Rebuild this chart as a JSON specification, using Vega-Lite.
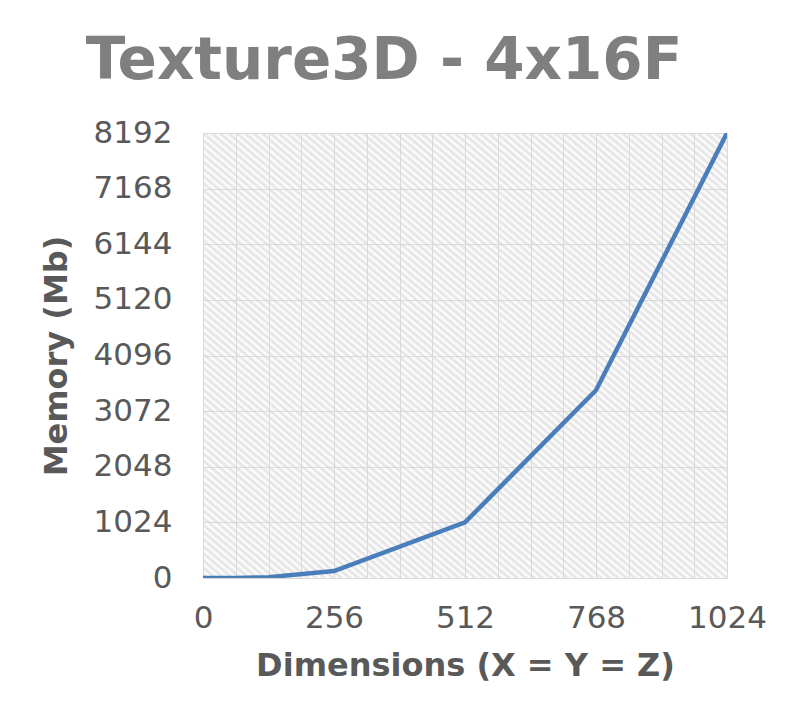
{
  "$schema": "https://vega.github.io/schema/vega-lite/v6.json",
  "width": 524,
  "height": 445,
  "autosize": {"type": "none"},
  "padding": {"left": 203, "top": 133, "right": 64, "bottom": 139},
  "background": "white",
  "title": {"text": "Texture3D - 4x16F", "fontSize": 58, "font": "DejaVu Sans", "fontWeight": "bold", "color": "#7f7f7f", "anchor": "middle", "dx": -81, "offset": 26},
  "data": {"values": [
    {"dim": 0, "mem": 0},
    {"dim": 64, "mem": 2},
    {"dim": 128, "mem": 16},
    {"dim": 256, "mem": 128},
    {"dim": 512, "mem": 1024},
    {"dim": 768, "mem": 3456},
    {"dim": 1024, "mem": 8192}
  ]},
  "mark": {"type": "line", "color": "#4a7ebb", "strokeWidth": 4.5, "clip": true},
  "encoding": {
    "x": {
      "field": "dim", "type": "quantitative",
      "scale": {"domain": [0, 1024], "nice": false, "zero": true},
      "axis": {
        "values": [0, 64, 128, 192, 256, 320, 384, 448, 512, 576, 640, 704, 768, 832, 896, 960, 1024],
        "labelExpr": "datum.value % 256 == 0 ? datum.label : ''",
        "format": "d",
        "title": "Dimensions (X = Y = Z)",
        "labelPadding": 25,
        "titlePadding": 17
      }
    },
    "y": {
      "field": "mem", "type": "quantitative",
      "scale": {"domain": [0, 8192], "nice": false},
      "axis": {
        "values": [0, 1024, 2048, 3072, 4096, 5120, 6144, 7168, 8192],
        "format": "d",
        "title": "Memory (Mb)",
        "labelPadding": 31,
        "titlePadding": 20
      }
    }
  },
  "config": {
    "view": {
      "stroke": null,
      "fill": {
        "gradient": "linear", "x1": 0, "y1": 1, "x2": 1, "y2": 0,
        "stops": [
{"offset":0,"color":"#ffffff"},{"offset":0.004,"color":"#e2e2e2"},{"offset":0.008,"color":"#ffffff"},{"offset":0.012,"color":"#e2e2e2"},{"offset":0.016,"color":"#ffffff"},{"offset":0.02,"color":"#e2e2e2"},{"offset":0.024,"color":"#ffffff"},{"offset":0.028,"color":"#e2e2e2"},{"offset":0.032,"color":"#ffffff"},{"offset":0.036,"color":"#e2e2e2"},
{"offset":0.04,"color":"#ffffff"},{"offset":0.044,"color":"#e2e2e2"},{"offset":0.048,"color":"#ffffff"},{"offset":0.052,"color":"#e2e2e2"},{"offset":0.056,"color":"#ffffff"},{"offset":0.06,"color":"#e2e2e2"},{"offset":0.064,"color":"#ffffff"},{"offset":0.068,"color":"#e2e2e2"},{"offset":0.072,"color":"#ffffff"},{"offset":0.076,"color":"#e2e2e2"},
{"offset":0.08,"color":"#ffffff"},{"offset":0.084,"color":"#e2e2e2"},{"offset":0.088,"color":"#ffffff"},{"offset":0.092,"color":"#e2e2e2"},{"offset":0.096,"color":"#ffffff"},{"offset":0.1,"color":"#e2e2e2"},{"offset":0.104,"color":"#ffffff"},{"offset":0.108,"color":"#e2e2e2"},{"offset":0.112,"color":"#ffffff"},{"offset":0.116,"color":"#e2e2e2"},
{"offset":0.12,"color":"#ffffff"},{"offset":0.124,"color":"#e2e2e2"},{"offset":0.128,"color":"#ffffff"},{"offset":0.132,"color":"#e2e2e2"},{"offset":0.136,"color":"#ffffff"},{"offset":0.14,"color":"#e2e2e2"},{"offset":0.144,"color":"#ffffff"},{"offset":0.148,"color":"#e2e2e2"},{"offset":0.152,"color":"#ffffff"},{"offset":0.156,"color":"#e2e2e2"},
{"offset":0.16,"color":"#ffffff"},{"offset":0.164,"color":"#e2e2e2"},{"offset":0.168,"color":"#ffffff"},{"offset":0.172,"color":"#e2e2e2"},{"offset":0.176,"color":"#ffffff"},{"offset":0.18,"color":"#e2e2e2"},{"offset":0.184,"color":"#ffffff"},{"offset":0.188,"color":"#e2e2e2"},{"offset":0.192,"color":"#ffffff"},{"offset":0.196,"color":"#e2e2e2"},
{"offset":0.2,"color":"#ffffff"},{"offset":0.204,"color":"#e2e2e2"},{"offset":0.208,"color":"#ffffff"},{"offset":0.212,"color":"#e2e2e2"},{"offset":0.216,"color":"#ffffff"},{"offset":0.22,"color":"#e2e2e2"},{"offset":0.224,"color":"#ffffff"},{"offset":0.228,"color":"#e2e2e2"},{"offset":0.232,"color":"#ffffff"},{"offset":0.236,"color":"#e2e2e2"},
{"offset":0.24,"color":"#ffffff"},{"offset":0.244,"color":"#e2e2e2"},{"offset":0.248,"color":"#ffffff"},{"offset":0.252,"color":"#e2e2e2"},{"offset":0.256,"color":"#ffffff"},{"offset":0.26,"color":"#e2e2e2"},{"offset":0.264,"color":"#ffffff"},{"offset":0.268,"color":"#e2e2e2"},{"offset":0.272,"color":"#ffffff"},{"offset":0.276,"color":"#e2e2e2"},
{"offset":0.28,"color":"#ffffff"},{"offset":0.284,"color":"#e2e2e2"},{"offset":0.288,"color":"#ffffff"},{"offset":0.292,"color":"#e2e2e2"},{"offset":0.296,"color":"#ffffff"},{"offset":0.3,"color":"#e2e2e2"},{"offset":0.304,"color":"#ffffff"},{"offset":0.308,"color":"#e2e2e2"},{"offset":0.312,"color":"#ffffff"},{"offset":0.316,"color":"#e2e2e2"},
{"offset":0.32,"color":"#ffffff"},{"offset":0.324,"color":"#e2e2e2"},{"offset":0.328,"color":"#ffffff"},{"offset":0.332,"color":"#e2e2e2"},{"offset":0.336,"color":"#ffffff"},{"offset":0.34,"color":"#e2e2e2"},{"offset":0.344,"color":"#ffffff"},{"offset":0.348,"color":"#e2e2e2"},{"offset":0.352,"color":"#ffffff"},{"offset":0.356,"color":"#e2e2e2"},
{"offset":0.36,"color":"#ffffff"},{"offset":0.364,"color":"#e2e2e2"},{"offset":0.368,"color":"#ffffff"},{"offset":0.372,"color":"#e2e2e2"},{"offset":0.376,"color":"#ffffff"},{"offset":0.38,"color":"#e2e2e2"},{"offset":0.384,"color":"#ffffff"},{"offset":0.388,"color":"#e2e2e2"},{"offset":0.392,"color":"#ffffff"},{"offset":0.396,"color":"#e2e2e2"},
{"offset":0.4,"color":"#ffffff"},{"offset":0.404,"color":"#e2e2e2"},{"offset":0.408,"color":"#ffffff"},{"offset":0.412,"color":"#e2e2e2"},{"offset":0.416,"color":"#ffffff"},{"offset":0.42,"color":"#e2e2e2"},{"offset":0.424,"color":"#ffffff"},{"offset":0.428,"color":"#e2e2e2"},{"offset":0.432,"color":"#ffffff"},{"offset":0.436,"color":"#e2e2e2"},
{"offset":0.44,"color":"#ffffff"},{"offset":0.444,"color":"#e2e2e2"},{"offset":0.448,"color":"#ffffff"},{"offset":0.452,"color":"#e2e2e2"},{"offset":0.456,"color":"#ffffff"},{"offset":0.46,"color":"#e2e2e2"},{"offset":0.464,"color":"#ffffff"},{"offset":0.468,"color":"#e2e2e2"},{"offset":0.472,"color":"#ffffff"},{"offset":0.476,"color":"#e2e2e2"},
{"offset":0.48,"color":"#ffffff"},{"offset":0.484,"color":"#e2e2e2"},{"offset":0.488,"color":"#ffffff"},{"offset":0.492,"color":"#e2e2e2"},{"offset":0.496,"color":"#ffffff"},{"offset":0.5,"color":"#e2e2e2"},{"offset":0.504,"color":"#ffffff"},{"offset":0.508,"color":"#e2e2e2"},{"offset":0.512,"color":"#ffffff"},{"offset":0.516,"color":"#e2e2e2"},
{"offset":0.52,"color":"#ffffff"},{"offset":0.524,"color":"#e2e2e2"},{"offset":0.528,"color":"#ffffff"},{"offset":0.532,"color":"#e2e2e2"},{"offset":0.536,"color":"#ffffff"},{"offset":0.54,"color":"#e2e2e2"},{"offset":0.544,"color":"#ffffff"},{"offset":0.548,"color":"#e2e2e2"},{"offset":0.552,"color":"#ffffff"},{"offset":0.556,"color":"#e2e2e2"},
{"offset":0.56,"color":"#ffffff"},{"offset":0.564,"color":"#e2e2e2"},{"offset":0.568,"color":"#ffffff"},{"offset":0.572,"color":"#e2e2e2"},{"offset":0.576,"color":"#ffffff"},{"offset":0.58,"color":"#e2e2e2"},{"offset":0.584,"color":"#ffffff"},{"offset":0.588,"color":"#e2e2e2"},{"offset":0.592,"color":"#ffffff"},{"offset":0.596,"color":"#e2e2e2"},
{"offset":0.6,"color":"#ffffff"},{"offset":0.604,"color":"#e2e2e2"},{"offset":0.608,"color":"#ffffff"},{"offset":0.612,"color":"#e2e2e2"},{"offset":0.616,"color":"#ffffff"},{"offset":0.62,"color":"#e2e2e2"},{"offset":0.624,"color":"#ffffff"},{"offset":0.628,"color":"#e2e2e2"},{"offset":0.632,"color":"#ffffff"},{"offset":0.636,"color":"#e2e2e2"},
{"offset":0.64,"color":"#ffffff"},{"offset":0.644,"color":"#e2e2e2"},{"offset":0.648,"color":"#ffffff"},{"offset":0.652,"color":"#e2e2e2"},{"offset":0.656,"color":"#ffffff"},{"offset":0.66,"color":"#e2e2e2"},{"offset":0.664,"color":"#ffffff"},{"offset":0.668,"color":"#e2e2e2"},{"offset":0.672,"color":"#ffffff"},{"offset":0.676,"color":"#e2e2e2"},
{"offset":0.68,"color":"#ffffff"},{"offset":0.684,"color":"#e2e2e2"},{"offset":0.688,"color":"#ffffff"},{"offset":0.692,"color":"#e2e2e2"},{"offset":0.696,"color":"#ffffff"},{"offset":0.7,"color":"#e2e2e2"},{"offset":0.704,"color":"#ffffff"},{"offset":0.708,"color":"#e2e2e2"},{"offset":0.712,"color":"#ffffff"},{"offset":0.716,"color":"#e2e2e2"},
{"offset":0.72,"color":"#ffffff"},{"offset":0.724,"color":"#e2e2e2"},{"offset":0.728,"color":"#ffffff"},{"offset":0.732,"color":"#e2e2e2"},{"offset":0.736,"color":"#ffffff"},{"offset":0.74,"color":"#e2e2e2"},{"offset":0.744,"color":"#ffffff"},{"offset":0.748,"color":"#e2e2e2"},{"offset":0.752,"color":"#ffffff"},{"offset":0.756,"color":"#e2e2e2"},
{"offset":0.76,"color":"#ffffff"},{"offset":0.764,"color":"#e2e2e2"},{"offset":0.768,"color":"#ffffff"},{"offset":0.772,"color":"#e2e2e2"},{"offset":0.776,"color":"#ffffff"},{"offset":0.78,"color":"#e2e2e2"},{"offset":0.784,"color":"#ffffff"},{"offset":0.788,"color":"#e2e2e2"},{"offset":0.792,"color":"#ffffff"},{"offset":0.796,"color":"#e2e2e2"},
{"offset":0.8,"color":"#ffffff"},{"offset":0.804,"color":"#e2e2e2"},{"offset":0.808,"color":"#ffffff"},{"offset":0.812,"color":"#e2e2e2"},{"offset":0.816,"color":"#ffffff"},{"offset":0.82,"color":"#e2e2e2"},{"offset":0.824,"color":"#ffffff"},{"offset":0.828,"color":"#e2e2e2"},{"offset":0.832,"color":"#ffffff"},{"offset":0.836,"color":"#e2e2e2"},
{"offset":0.84,"color":"#ffffff"},{"offset":0.844,"color":"#e2e2e2"},{"offset":0.848,"color":"#ffffff"},{"offset":0.852,"color":"#e2e2e2"},{"offset":0.856,"color":"#ffffff"},{"offset":0.86,"color":"#e2e2e2"},{"offset":0.864,"color":"#ffffff"},{"offset":0.868,"color":"#e2e2e2"},{"offset":0.872,"color":"#ffffff"},{"offset":0.876,"color":"#e2e2e2"},
{"offset":0.88,"color":"#ffffff"},{"offset":0.884,"color":"#e2e2e2"},{"offset":0.888,"color":"#ffffff"},{"offset":0.892,"color":"#e2e2e2"},{"offset":0.896,"color":"#ffffff"},{"offset":0.9,"color":"#e2e2e2"},{"offset":0.904,"color":"#ffffff"},{"offset":0.908,"color":"#e2e2e2"},{"offset":0.912,"color":"#ffffff"},{"offset":0.916,"color":"#e2e2e2"},
{"offset":0.92,"color":"#ffffff"},{"offset":0.924,"color":"#e2e2e2"},{"offset":0.928,"color":"#ffffff"},{"offset":0.932,"color":"#e2e2e2"},{"offset":0.936,"color":"#ffffff"},{"offset":0.94,"color":"#e2e2e2"},{"offset":0.944,"color":"#ffffff"},{"offset":0.948,"color":"#e2e2e2"},{"offset":0.952,"color":"#ffffff"},{"offset":0.956,"color":"#e2e2e2"},
{"offset":0.96,"color":"#ffffff"},{"offset":0.964,"color":"#e2e2e2"},{"offset":0.968,"color":"#ffffff"},{"offset":0.972,"color":"#e2e2e2"},{"offset":0.976,"color":"#ffffff"},{"offset":0.98,"color":"#e2e2e2"},{"offset":0.984,"color":"#ffffff"},{"offset":0.988,"color":"#e2e2e2"},{"offset":0.992,"color":"#ffffff"},{"offset":0.996,"color":"#e2e2e2"},
{"offset":1,"color":"#ffffff"}
        ]
      }
    },
    "axis": {
      "domain": false,
      "ticks": false,
      "tickSize": 0,
      "grid": true,
      "gridColor": "#d9d9d9",
      "gridWidth": 1,
      "labelFont": "DejaVu Sans",
      "labelFontSize": 31,
      "labelColor": "#595959",
      "labelOverlap": false,
      "labelFlush": false,
      "labelBound": false,
      "titleFont": "DejaVu Sans",
      "titleFontSize": 32,
      "titleFontWeight": "bold",
      "titleColor": "#595959"
    }
  }
}
